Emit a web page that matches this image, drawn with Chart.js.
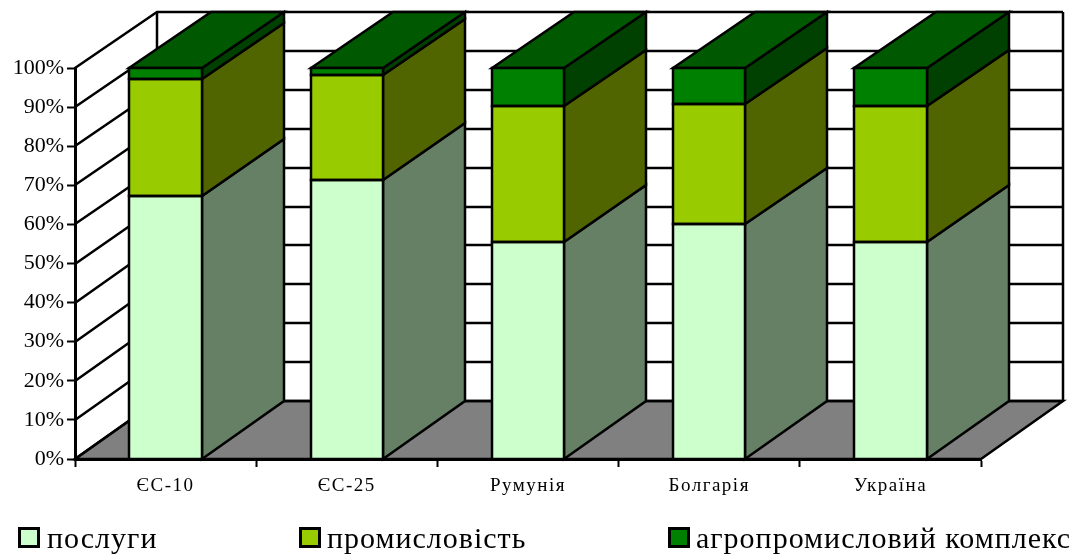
<!DOCTYPE html>
<html lang="uk">
<head>
<meta charset="utf-8">
<title>Структура ВВП</title>
<script src="https://cdn.jsdelivr.net/npm/chart.js@4"></script>
<style>
    html, body { margin: 0; padding: 0; background: #fff; }
    #wrap { position: relative; width: 1082px; height: 554px; overflow: hidden; }
    #legend { font-family: "Liberation Serif", serif; font-size: 30px; letter-spacing: 1px; color: #000; }
    #legend span { position: absolute; top: 518px; line-height: 40px; white-space: nowrap; }
    #legend i { position: absolute; top: 527px; width: 16px; height: 15px; border: 3px solid #000; }
</style>
</head>
<body>
<div id="wrap">
    <canvas id="chart" width="1082" height="554"></canvas>
    <div id="legend"></div>
</div>
<script>
const CATEGORIES = ['ЄС-10', 'ЄС-25', 'Румунія', 'Болгарія', 'Україна'];
const SERVICES = [67.3, 71.4, 55.5, 60.0, 55.5];
const INDUSTRY = [29.9, 26.9, 34.8, 30.8, 34.8];
const AGRO = [2.8, 1.7, 9.7, 9.2, 9.7];
const Y_MIN = 0;
const Y_MAX = 100;
const Y_STEP = 10;

// Excel-style 3D box: how far the back plane sits from the front one.
const DEPTH_X = 82;
const DEPTH_Y_TOP = 56;
const DEPTH_Y_BOTTOM = 58;
const LINE_WIDTH = 2.5;
const LEGEND_X = [[18, 47], [299, 327], [668, 696]];

const SERIES = [
    { label: 'послуги', data: SERVICES, front: '#ccffcc', side: '#668066' },
    { label: 'промисловість', data: INDUSTRY, front: '#99cc00', side: '#506400' },
    { label: 'агропромисловий комплекс', data: AGRO, front: '#008000', side: '#004000', top: '#005900' },
];

// Rounded so the outlines don't blur differently from one segment to the next.
function poly(ctx, points, fill) {
    ctx.beginPath();
    points.forEach((p, i) => {
        const x = Math.round(p[0]);
        const y = Math.round(p[1]);
        if (i) ctx.lineTo(x, y); else ctx.moveTo(x, y);
    });
    ctx.closePath();
    if (fill) { ctx.fillStyle = fill; ctx.fill(); }
    ctx.stroke();
}

// The box is drawn around the real bars; every point comes from the scales or bar elements.
const box3d = {
    id: 'box3d',
    beforeDraw(chart) {
        // Only the category labels are spaced out in the original.
        const x = chart.scales.x;
        if (!x._spaced) {
            const drawLabels = x.drawLabels;
            x.drawLabels = function (area) {
                chart.ctx.save();
                chart.ctx.letterSpacing = '1.5px';
                drawLabels.call(this, area);
                chart.ctx.restore();
            };
            x._spaced = true;
        }
    },
    beforeDatasetsDraw(chart) {
        const { ctx, chartArea: a, scales: { y } } = chart;
        const back = (px, py) => [
            px + DEPTH_X,
            py - (DEPTH_Y_TOP + (DEPTH_Y_BOTTOM - DEPTH_Y_TOP) * (py - a.top) / (a.bottom - a.top)),
        ];

        ctx.save();
        ctx.strokeStyle = '#000';
        ctx.lineWidth = LINE_WIDTH;
        ctx.lineJoin = 'miter';

        // floor
        poly(ctx, [[a.left, a.bottom], back(a.left, a.bottom), back(a.right, a.bottom), [a.right, a.bottom]], '#808080');

        // walls and grid
        y.ticks.forEach(t => {
            const py = y.getPixelForValue(t.value);
            const b = back(a.left, py);
            ctx.beginPath();
            ctx.moveTo(a.left, Math.round(py));
            ctx.lineTo(Math.round(b[0]), Math.round(b[1]));
            ctx.lineTo(Math.round(back(a.right, py)[0]), Math.round(b[1]));
            ctx.stroke();
        });
        [a.left, a.right].forEach(px => {
            const t = back(px, a.top);
            const b = back(px, a.bottom);
            ctx.beginPath();
            ctx.moveTo(Math.round(t[0]), Math.round(t[1]));
            ctx.lineTo(Math.round(b[0]), Math.round(b[1]));
            ctx.stroke();
        });

        // bar sides, bottom segment first, then the cap
        SERIES.forEach((s, d) => {
            chart.getDatasetMeta(d).data.forEach(bar => {
                const left = bar.x - bar.width / 2;
                const right = bar.x + bar.width / 2;
                poly(ctx, [[right, bar.base], back(right, bar.base), back(right, bar.y), [right, bar.y]], s.side);
                if (s.top) {
                    poly(ctx, [[left, bar.y], back(left, bar.y), back(right, bar.y), [right, bar.y]], s.top);
                }
            });
        });
        ctx.restore();
    },
    afterDatasetsDraw(chart) {
        // Chart.js strokes borders inside the bar, which doubles the seams of a stack.
        const { ctx } = chart;
        ctx.save();
        ctx.strokeStyle = '#000';
        ctx.lineWidth = LINE_WIDTH;
        SERIES.forEach((s, d) => {
            chart.getDatasetMeta(d).data.forEach(bar => {
                const left = bar.x - bar.width / 2;
                const right = bar.x + bar.width / 2;
                poly(ctx, [[left, bar.base], [left, bar.y], [right, bar.y], [right, bar.base]]);
            });
        });
        ctx.restore();
    },
};

new Chart(document.getElementById('chart'), {
    type: 'bar',
    data: {
        labels: CATEGORIES,
        datasets: SERIES.map(s => ({
            label: s.label,
            data: s.data,
            backgroundColor: s.front,
            borderWidth: 0,
            categoryPercentage: 0.4,
            barPercentage: 1,
        })),
    },
    options: {
        responsive: false,
        animation: false,
        layout: { padding: { top: 68, right: 101, bottom: 55, left: 0 } },
        plugins: { legend: { display: false }, tooltip: { enabled: false }, title: { display: false } },
        scales: {
            x: {
                stacked: true,
                afterFit: s => { s.height = 40; },
                grid: { drawOnChartArea: false, drawTicks: true, tickLength: 8, tickWidth: 2, tickColor: '#000' },
                border: { display: true, color: '#000', width: 3 },
                ticks: { color: '#000', maxRotation: 0, autoSkip: false, padding: 8, font: { family: 'Liberation Serif', size: 19 } },
            },
            y: {
                stacked: true,
                min: Y_MIN,
                max: Y_MAX,
                afterFit: s => { s.width = 75; },
                grid: { drawOnChartArea: false, drawTicks: true, tickLength: 8, tickWidth: 2, tickColor: '#000' },
                border: { display: true, color: '#000', width: 3 },
                ticks: { color: '#000', stepSize: Y_STEP, padding: 3, callback: v => v + '%', font: { family: 'Liberation Serif', size: 22 } },
            },
        },
    },
    plugins: [box3d],
});

// Legend spacing in the picture is not even, so it is laid out by hand.
const legend = document.getElementById('legend');
SERIES.forEach((s, i) => {
    const box = document.createElement('i');
    box.style.left = LEGEND_X[i][0] + 'px';
    box.style.background = s.front;
    const text = document.createElement('span');
    text.style.left = LEGEND_X[i][1] + 'px';
    text.textContent = s.label;
    legend.append(box, text);
});
</script>
</body>
</html>
